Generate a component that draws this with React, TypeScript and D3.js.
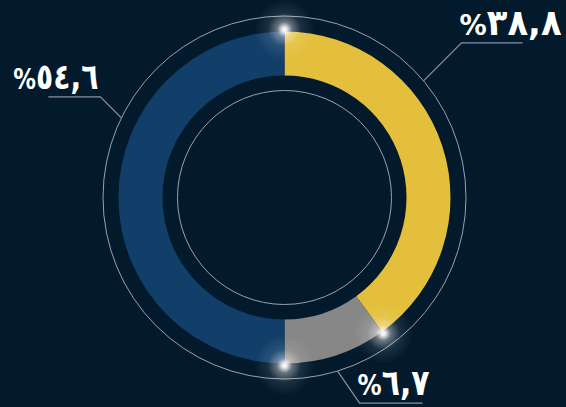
import { arc, pie, scaleLinear } from 'd3'
import { useEffect, useMemo } from 'react'

const categories = ['yellow', 'gray', 'blue']
const shares = [40, 10, 50]
const labels = ['%٣٨,٨', '%٦,٧', '%٥٤,٦']
const colors = ['#e3bf3b', '#878787', '#123f6a']

// leader anchor angle (deg, clockwise from top), elbow offset, horizontal run, label width
const leaders = [
  { angle: 50, dx: 38, dy: -38, run: 61, w: 102 },
  { angle: 163, dx: 22, dy: 32, run: 63, w: 72 },
  { angle: 296, dx: -21, dy: -21, run: -52, w: 85 },
]

const width = 566
const height = 407
const cx = 284.5
const cy = 197.5
const outerR = 166
const innerR = 122
const ringOuter = 181.5
const ringInner = 107
const bg = '#021a2c'

const App = () => {
  useEffect(() => {
    document.body.style.margin = '0'
    document.body.style.background = bg
  }, [])

  const slices = useMemo(() => {
    const gen = pie<number>().sort(null).value((d) => d)
    return gen(shares)
  }, [])

  const arcGen = arc<any>().innerRadius(innerR).outerRadius(outerR)
  const deg = scaleLinear().domain([0, 360]).range([0, 2 * Math.PI])

  const polar = (a: number, r: number) => ({
    x: cx + r * Math.sin(a),
    y: cy - r * Math.cos(a),
  })

  return (
    <svg width={width} height={height} style={{ display: 'block', background: bg }}>
      <defs>
        <radialGradient id="glow">
          <stop offset="0%" stopColor="#ffffff" stopOpacity={1} />
          <stop offset="8%" stopColor="#ffffff" stopOpacity={0.9} />
          <stop offset="25%" stopColor="#ffffff" stopOpacity={0.4} />
          <stop offset="55%" stopColor="#ffffff" stopOpacity={0.1} />
          <stop offset="100%" stopColor="#ffffff" stopOpacity={0} />
        </radialGradient>
      </defs>
      <rect width={width} height={height} fill={bg} />
      <circle cx={cx} cy={cy} r={ringOuter} fill="none" stroke="#9aa0b2" strokeWidth={1} />
      <circle cx={cx} cy={cy} r={ringInner} fill="none" stroke="#9aa0b2" strokeWidth={1} />
      <g transform={`translate(${cx},${cy})`}>
        {slices.map((s, i) => (
          <path key={categories[i]} d={arcGen(s) ?? ''} fill={colors[i]} />
        ))}
      </g>
      {slices.map((s, i) => {
        const p = polar(s.startAngle, outerR + 2)
        return <circle key={`g${i}`} cx={p.x} cy={p.y} r={30} fill="url(#glow)" />
      })}
      {leaders.map((l, i) => {
        const a = polar(deg(l.angle), ringOuter)
        const e = { x: a.x + l.dx, y: a.y + l.dy }
        const end = { x: e.x + l.run, y: e.y }
        const right = l.run > 0
        const label = labels[i]
        return (
          <g key={`l${i}`}>
            <polyline
              points={`${a.x},${a.y} ${e.x},${e.y} ${end.x},${end.y}`}
              fill="none"
              stroke="#8c90a6"
              strokeWidth={1.2}
            />
            <text
              x={right ? e.x - 2 : e.x - 2 - l.w}
              y={e.y - 8}
              textLength={l.w}
              lengthAdjust="spacingAndGlyphs"
              fill="#ffffff"
              fontFamily="DejaVu Sans"
              fontWeight="bold"
              direction="ltr"
              unicodeBidi="bidi-override"
            >
              <tspan fontSize={29}>{label.slice(0, 1)}</tspan>
              <tspan fontSize={36}>{label.slice(1)}</tspan>
            </text>
          </g>
        )
      })}
    </svg>
  )
}

export default App
